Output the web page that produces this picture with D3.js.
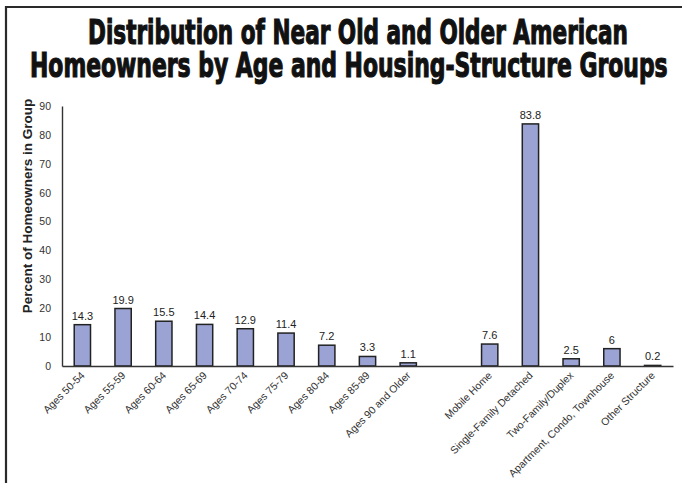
<!DOCTYPE html>
<html>
<head>
<meta charset="utf-8">
<script src="https://cdn.jsdelivr.net/npm/d3@7"></script>
<style>
  html, body { margin: 0; padding: 0; background: #fff; }
  svg { display: block; }
</style>
</head>
<body>
<svg id="chart" width="682" height="483"></svg>
<script>
// Category groups: age bands, then housing-structure types
const ageGroups = ["Ages 50-54", "Ages 55-59", "Ages 60-64", "Ages 65-69", "Ages 70-74",
                   "Ages 75-79", "Ages 80-84", "Ages 85-89", "Ages 90 and Older"];
const ageValues = [14.3, 19.9, 15.5, 14.4, 12.9, 11.4, 7.2, 3.3, 1.1];

const structureGroups = ["Mobile Home", "Single-Family Detached", "Two-Family/Duplex",
                         "Apartment, Condo, Townhouse", "Other Structure"];
const structureValues = [7.6, 83.8, 2.5, 6, 0.2];

const yTicks = [0, 10, 20, 30, 40, 50, 60, 70, 80, 90];
const titleLines = ["Distribution of Near Old and Older American",
                    "Homeowners by Age and Housing-Structure Groups"];
const yAxisTitle = "Percent of Homeowners in Group";

const svg = d3.select("#chart");
const W = 682, H = 483;

// Frame lines on the top and left edges
svg.append("line").attr("x1", 5).attr("x2", W).attr("y1", 7).attr("y2", 7)
  .attr("stroke", "#2a2a2a").attr("stroke-width", 2.2);
svg.append("line").attr("x1", 6).attr("x2", 6).attr("y1", 6).attr("y2", H)
  .attr("stroke", "#2a2a2a").attr("stroke-width", 2.2);

// Title in a heavy condensed face, each line stretched into its box
const titleSpecs = [
  { text: titleLines[0], x: 88, w: 540, y: 44 },
  { text: titleLines[1], x: 30, w: 638, y: 77 }
];
titleSpecs.forEach(spec => {
  const g = svg.append("g");
  const t = g.append("text")
    .attr("x", 0).attr("y", 0)
    .style("font-family", "'DejaVu Sans Condensed', 'DejaVu Sans', Arial, sans-serif")
    .style("font-weight", "bold")
    .style("font-size", "32px")
    .style("fill", "#111")
    .style("stroke", "#111").style("stroke-width", 1.1)
    .text(spec.text);
  const bw = t.node().getComputedTextLength();
  g.attr("transform", `translate(${spec.x},${spec.y}) scale(${spec.w / bw},1.05)`);
});

// Plot scales
const gap = "__gap__";
const domain = [...ageGroups, gap, ...structureGroups];
const data = [
  ...ageGroups.map((c, i) => ({ cat: c, value: ageValues[i] })),
  ...structureGroups.map((c, i) => ({ cat: c, value: structureValues[i] }))
];

const x0 = 62, x1 = 673, yBase = 366, yTop = 106;
const x = d3.scaleBand().domain(domain).range([x0, x1]).paddingInner(0.6).paddingOuter(0.3);
const y = d3.scaleLinear().domain([0, 90]).range([yBase, yTop]);

// Y axis: line plus numeric labels, no tick marks
const yAxis = d3.axisLeft(y).tickValues(yTicks).tickSize(0).tickPadding(11);
const gy = svg.append("g").attr("transform", `translate(${x0},0)`).call(yAxis);
gy.select(".domain").attr("stroke", "#333").attr("stroke-width", 1.4);
gy.selectAll("text")
  .style("font-family", "Arial, 'Liberation Sans', sans-serif")
  .style("font-size", "10.5px").style("fill", "#333");

// Y axis title
svg.append("text")
  .attr("transform", `translate(32,206) rotate(-90)`)
  .attr("text-anchor", "middle")
  .style("font-family", "Arial, 'Liberation Sans', sans-serif")
  .style("font-weight", "bold").style("font-size", "13.5px").style("fill", "#222")
  .text(yAxisTitle);

// Bars
svg.selectAll("rect.bar").data(data).join("rect")
  .attr("class", "bar")
  .attr("x", d => x(d.cat))
  .attr("width", x.bandwidth())
  .attr("y", d => y(d.value))
  .attr("height", d => yBase - y(d.value))
  .attr("fill", "#9aa3d3")
  .attr("stroke", "#222").attr("stroke-width", 1.5);

// X axis line with slanted category labels
const xAxis = d3.axisBottom(x).tickSize(0).tickFormat(d => d === gap ? "" : d);
const gx = svg.append("g").attr("transform", `translate(0,${yBase})`).call(xAxis);
gx.select(".domain").attr("stroke", "#333").attr("stroke-width", 1.4);
gx.selectAll(".tick text")
  .attr("text-anchor", "end")
  .attr("dy", 0)
  .attr("transform", "translate(3,10) rotate(-45)")
  .attr("y", 0).attr("x", 0)
  .style("font-family", "Arial, 'Liberation Sans', sans-serif")
  .style("font-size", "10.5px").style("fill", "#333");

// Value labels above bars
svg.selectAll("text.val").data(data).join("text")
  .attr("class", "val")
  .attr("x", d => x(d.cat) + x.bandwidth() / 2)
  .attr("y", d => y(d.value) - 5)
  .attr("text-anchor", "middle")
  .style("font-family", "Arial, 'Liberation Sans', sans-serif")
  .style("font-size", "11px").style("fill", "#222")
  .text(d => d.value);
</script>
</body>
</html>
